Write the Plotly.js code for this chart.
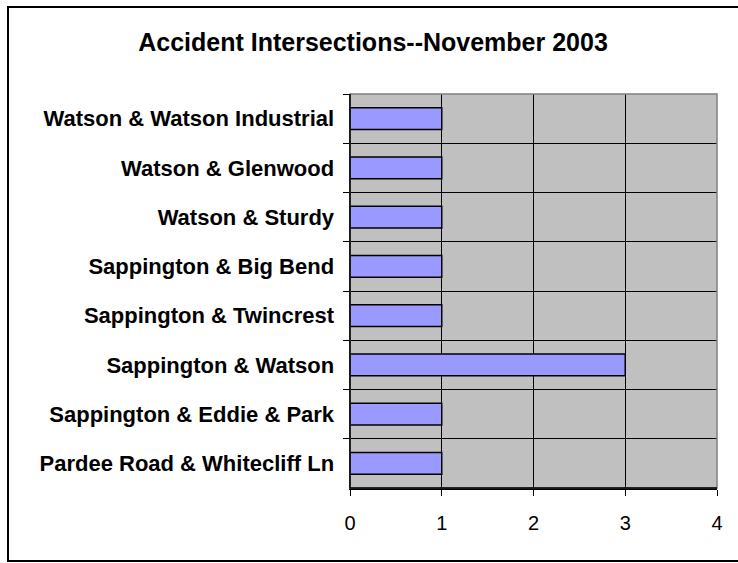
<!DOCTYPE html>
<html>
<head>
<meta charset="utf-8">
<script src="https://cdn.plot.ly/plotly-3.0.1.min.js"></script>
<style>html,body{margin:0;padding:0;background:#fff;}#chart{width:738px;height:563px;}</style>
</head>
<body>
<div id="chart"></div>
<script>
const chartTitle = "Accident Intersections--November 2003";
const intersections = [
  "Watson & Watson Industrial",
  "Watson & Glenwood",
  "Watson & Sturdy",
  "Sappington & Big Bend",
  "Sappington & Twincrest",
  "Sappington & Watson",
  "Sappington & Eddie & Park",
  "Pardee Road & Whitecliff Ln"
];
const accidents = [1, 1, 1, 1, 1, 3, 1, 1];
const xTicks = [0, 1, 2, 3, 4];

const W = 738, H = 563;
const L = 350, R = 21, T = 94, B = 75;
const pw = W - L - R, ph = H - T - B;
const px = v => (v - L) / pw;
const py = v => (H - B - v) / ph;

const font = "Liberation Sans, Arial, sans-serif";

const trace = {
  type: "bar",
  orientation: "h",
  x: accidents,
  y: intersections,
  marker: { color: "#9999FF", line: { color: "#000000", width: 1.5 } },
  hoverinfo: "x+y"
};

const layout = {
  width: W, height: H,
  margin: { l: L, r: R, t: T, b: B, pad: 0 },
  paper_bgcolor: "#FFFFFF",
  plot_bgcolor: "#C0C0C0",
  showlegend: false,
  bargap: 0.56,
  font: { family: font, color: "#000" },
  title: {
    text: "<b>" + chartTitle + "</b>",
    font: { family: font, size: 25, color: "#000" },
    xref: "container", yref: "container",
    x: 373 / W, xanchor: "center",
    y: 1 - 42 / H, yanchor: "middle"
  },
  xaxis: {
    range: [0, 4],
    tickvals: xTicks,
    ticktext: xTicks.map(String),
    showgrid: true, gridcolor: "#000", gridwidth: 1,
    zeroline: false,
    showline: true, linecolor: "#000", linewidth: 1.5,
    ticks: "outside", ticklen: 6, tickcolor: "#000", tickwidth: 1,
    ticklabelstandoff: 10,
    tickfont: { family: font, size: 20, color: "#000" },
    fixedrange: true
  },
  yaxis: {
    type: "category",
    categoryorder: "array",
    categoryarray: intersections,
    autorange: "reversed",
    tickson: "boundaries",
    showgrid: true, gridcolor: "#000", gridwidth: 1,
    zeroline: false,
    showline: true, linecolor: "#000", linewidth: 1.5,
    ticks: "outside", ticklen: 6, tickcolor: "#000", tickwidth: 1,
    ticklabelstandoff: 10,
    tickfont: { family: font, size: 22, color: "#000", weight: "bold" },
    fixedrange: true
  },
  shapes: [
    { type: "rect", xref: "paper", yref: "paper", x0: 0, x1: 1, y0: 0, y1: 1,
      line: { color: "#808080", width: 1.5 }, fillcolor: "rgba(0,0,0,0)", layer: "above" },
    { type: "line", xref: "paper", yref: "paper", x0: 0, x1: 0, y0: 0, y1: 1,
      line: { color: "#000", width: 1.5 }, layer: "above" },
    { type: "line", xref: "paper", yref: "paper", x0: 0, x1: 1, y0: 0, y1: 0,
      line: { color: "#000", width: 1.5 }, layer: "above" },
    { type: "rect", xref: "paper", yref: "paper",
      x0: px(8), x1: px(745), y0: py(561), y1: py(7),
      line: { color: "#000", width: 2 }, fillcolor: "rgba(0,0,0,0)", layer: "below" }
  ]
};

Plotly.newPlot("chart", [trace], layout, { displayModeBar: false, staticPlot: true });
</script>
</body>
</html>
